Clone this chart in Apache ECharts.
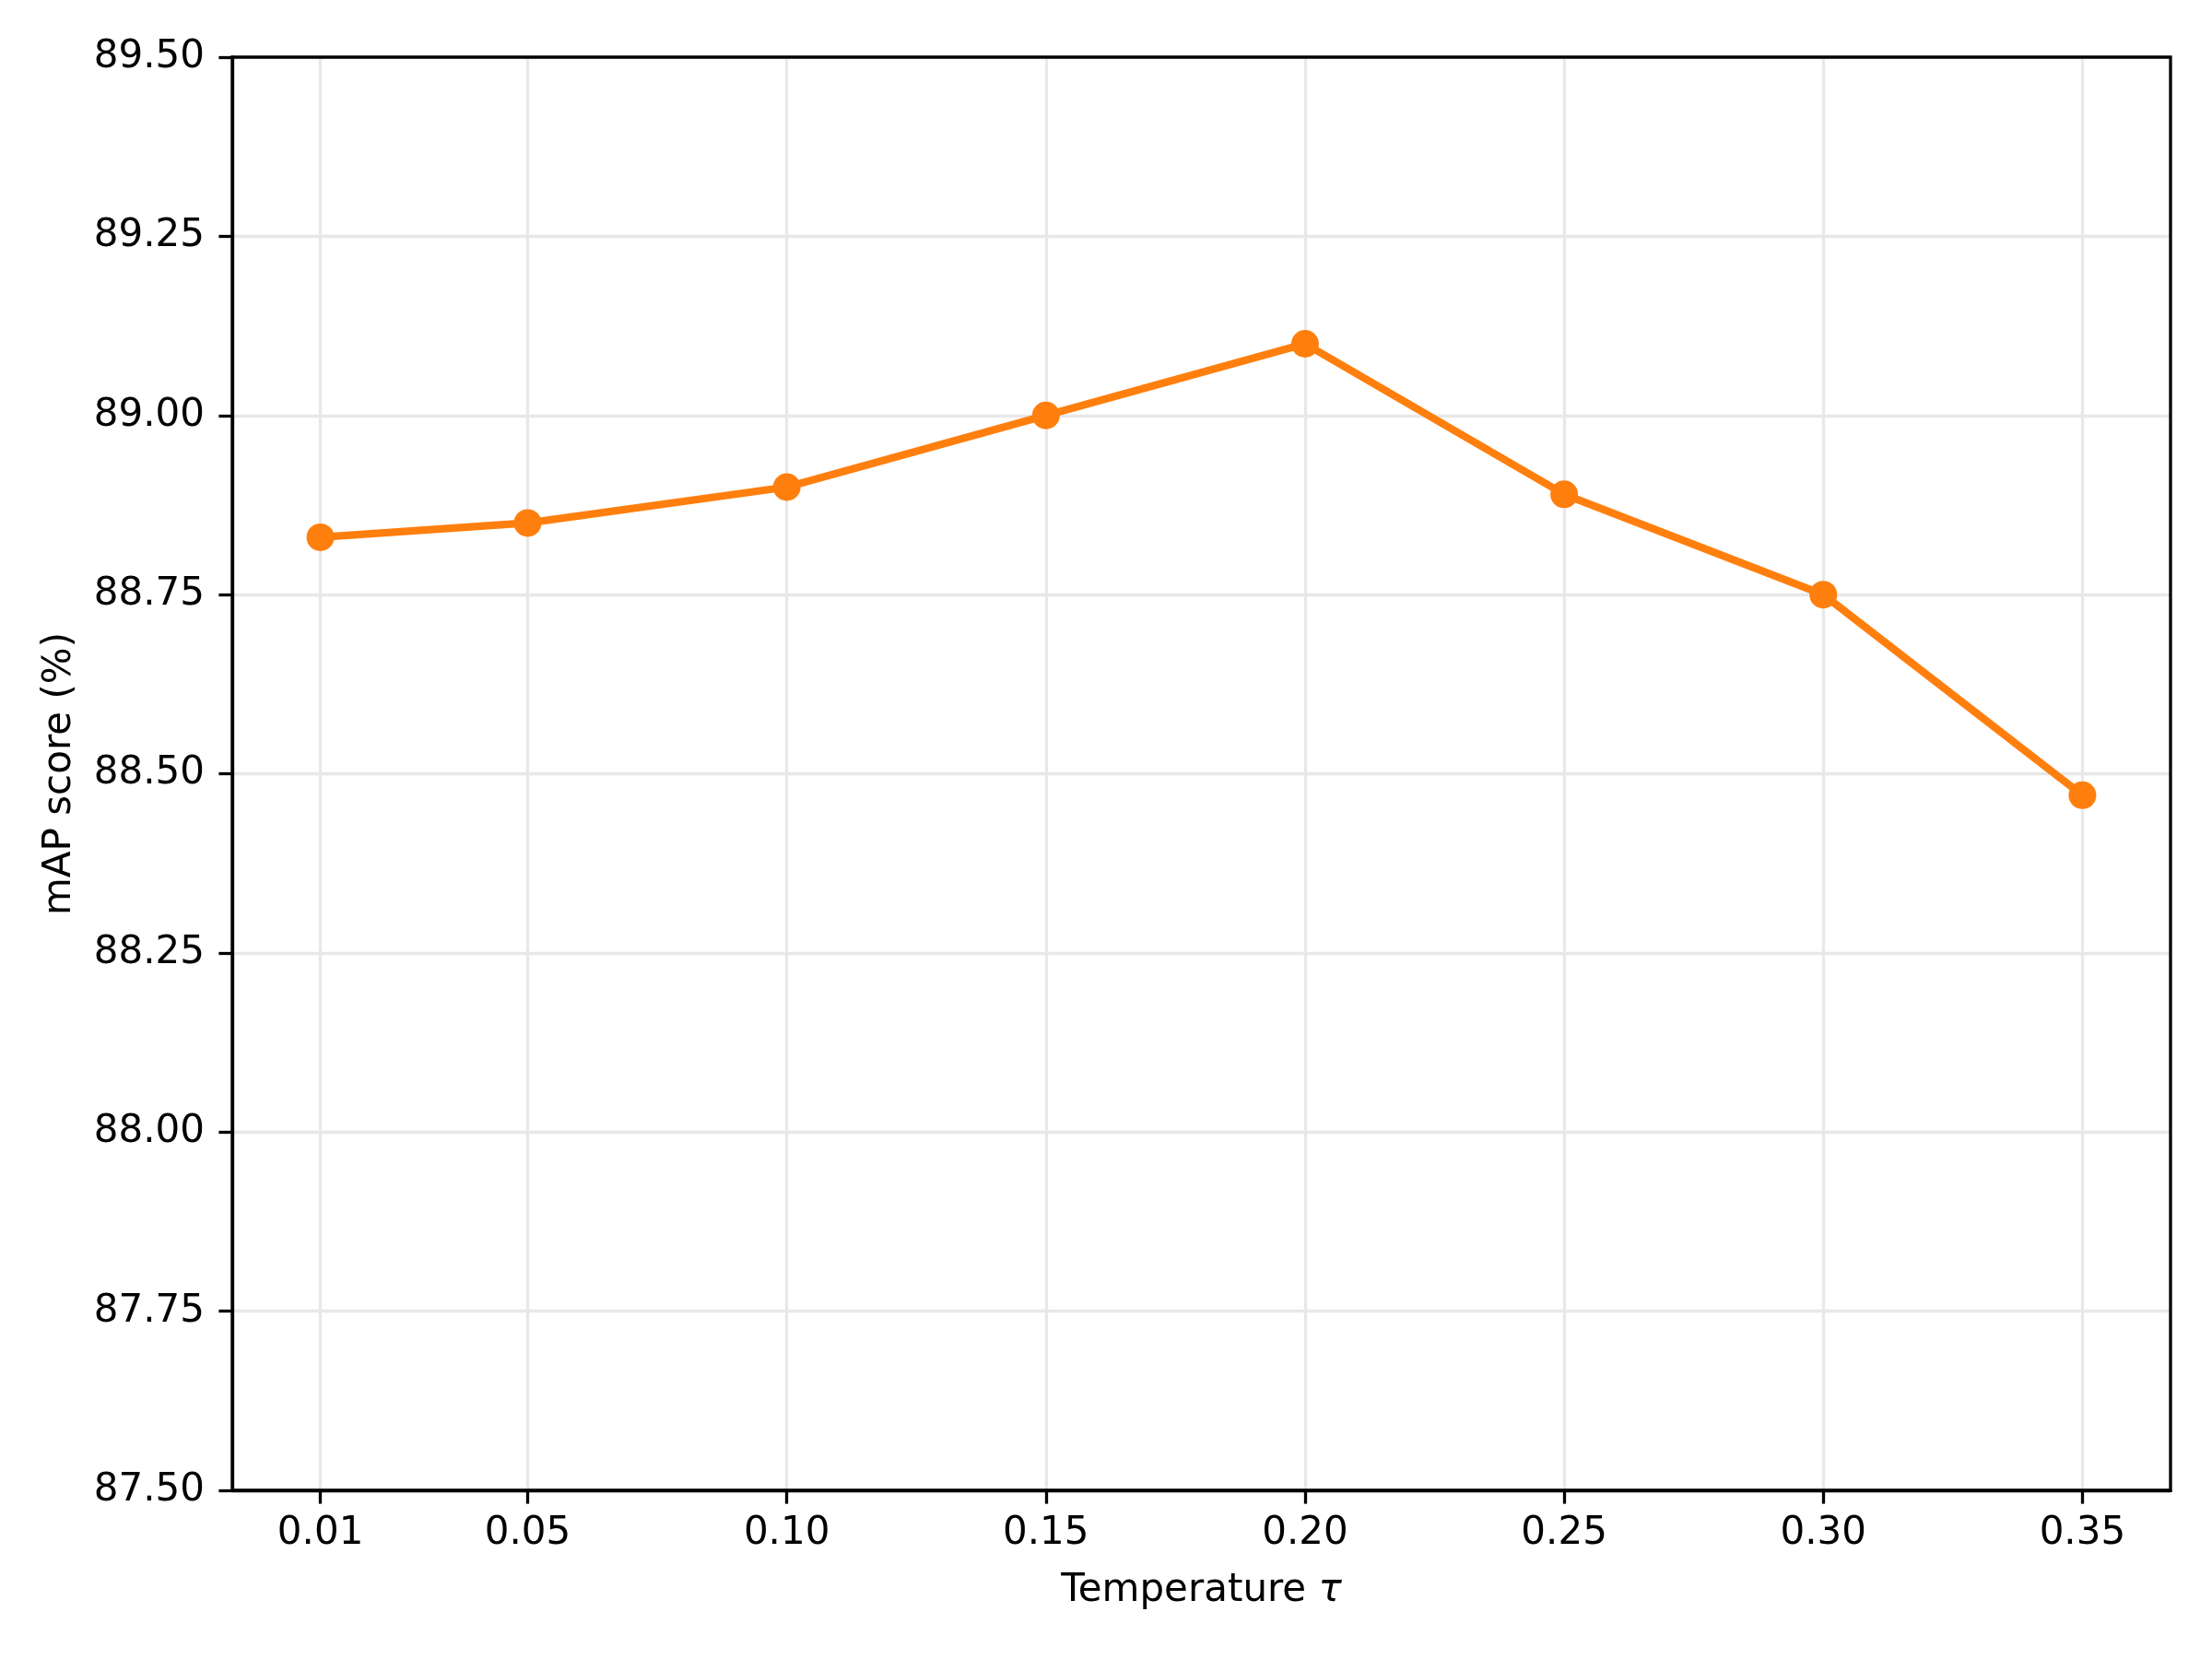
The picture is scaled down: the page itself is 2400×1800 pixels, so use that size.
<!DOCTYPE html>
<html>
<head>
<meta charset="utf-8">
<script src="https://cdn.jsdelivr.net/npm/echarts@6/dist/echarts.min.js"></script>
<style>html,body{margin:0;padding:0;background:#fff}#c{width:2400px;height:1800px}</style>
</head>
<body>
<div id="c"></div>
<script>
const temperatures = [0.01, 0.05, 0.10, 0.15, 0.20, 0.25, 0.30, 0.35];
const mapScores = [88.83, 88.85, 88.90, 89.00, 89.10, 88.89, 88.75, 88.47];
const xTickValues = [0.01, 0.05, 0.10, 0.15, 0.20, 0.25, 0.30, 0.35];
const yTickValues = [87.50, 87.75, 88.00, 88.25, 88.50, 88.75, 89.00, 89.25, 89.50];

const FONT = 'DejaVu Sans';
const FS = 42;
const chart = echarts.init(document.getElementById('c'), null, {renderer: 'canvas'});
chart.setOption({
  animation: false,
  backgroundColor: '#ffffff',
  textStyle: {fontFamily: FONT},
  grid: {left: 252, right: 45, top: 62, bottom: 183, show: true, borderColor: '#000', borderWidth: 3.3, backgroundColor: 'transparent', z: 3},
  xAxis: {
    type: 'value',
    min: -0.007,
    max: 0.367,
    name: '{n|Temperature }{t|τ}',
    nameLocation: 'middle',
    nameGap: 88,
    nameTextStyle: {
      rich: {
        n: {fontFamily: FONT, fontSize: FS, color: '#000'},
        t: {fontFamily: FONT, fontSize: FS, fontStyle: 'italic', color: '#000'}
      }
    },
    axisLine: {show: true, onZero: false, lineStyle: {color: '#000', width: 3.3}},
    axisTick: {show: true, length: 14.6, customValues: xTickValues, lineStyle: {color: '#000', width: 3.3}},
    axisLabel: {customValues: xTickValues, margin: 26, fontSize: FS, fontFamily: FONT, color: '#000', formatter: v => v.toFixed(2)},
    splitLine: {show: true, lineStyle: {color: '#e8e8e8', width: 3.3}}
  },
  yAxis: {
    type: 'value',
    min: 87.5,
    max: 89.5,
    interval: 0.25,
    name: 'mAP score (%)',
    nameLocation: 'middle',
    nameGap: 166,
    nameTextStyle: {fontFamily: FONT, fontSize: FS, color: '#000'},
    axisLine: {show: true, onZero: false, lineStyle: {color: '#000', width: 3.3}},
    axisTick: {show: true, length: 14.6, lineStyle: {color: '#000', width: 3.3}},
    axisLabel: {margin: 30, fontSize: FS, fontFamily: FONT, color: '#000', formatter: v => v.toFixed(2)},
    splitLine: {show: true, lineStyle: {color: '#e8e8e8', width: 3.3}}
  },
  series: [{
    type: 'line',
    data: temperatures.map((t, i) => [t, mapScores[i]]),
    symbol: 'circle',
    symbolSize: 30,
    showAllSymbol: true,
    lineStyle: {color: '#ff7f0e', width: 8.3},
    itemStyle: {color: '#ff7f0e', borderWidth: 0},
    z: 5
  }]
});
</script>
</body>
</html>
